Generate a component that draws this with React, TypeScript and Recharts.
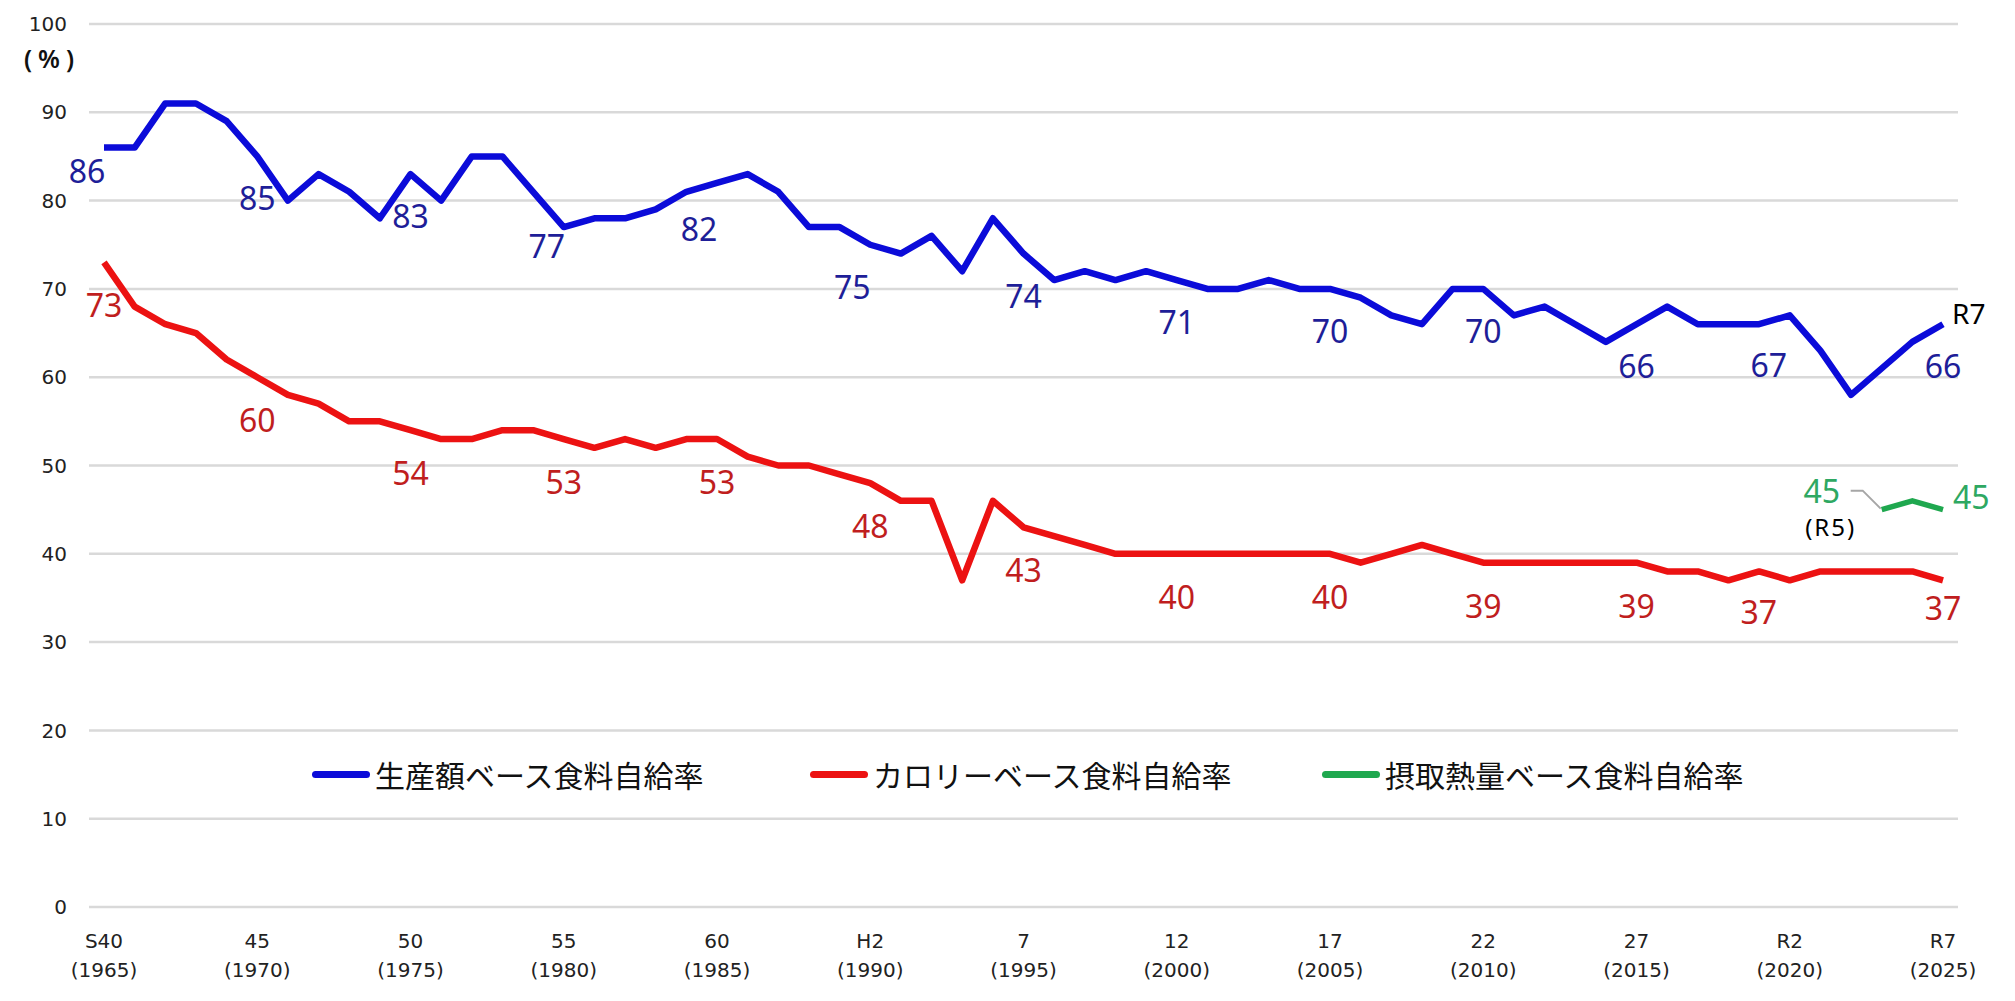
import React from 'react';
import { LineChart, Line, XAxis, YAxis, CartesianGrid, LabelList } from 'recharts';

// fiscal years on the category axis
const years = [
    1965, 1966, 1967, 1968, 1969, 1970, 1971, 1972, 1973, 1974,
    1975, 1976, 1977, 1978, 1979, 1980, 1981, 1982, 1983, 1984,
    1985, 1986, 1987, 1988, 1989, 1990, 1991, 1992, 1993, 1994,
    1995, 1996, 1997, 1998, 1999, 2000, 2001, 2002, 2003, 2004,
    2005, 2006, 2007, 2008, 2009, 2010, 2011, 2012, 2013, 2014,
    2015, 2016, 2017, 2018, 2019, 2020, 2021, 2022, 2023, 2024,
    2025,
];

// 生産額ベース (%)
const production = [
    86, 86, 91, 91, 89, 85, 80, 83, 81, 78,
    83, 80, 85, 85, 81, 77, 78, 78, 79, 81,
    82, 83, 81, 77, 77, 75, 74, 76, 72, 78,
    74, 71, 72, 71, 72, 71, 70, 70, 71, 70,
    70, 69, 67, 66, 70, 70, 67, 68, 66, 64,
    66, 68, 66, 66, 66, 67, 63, 58, 61, 64,
    66,
];

// カロリーベース (%)
const calorie = [
    73, 68, 66, 65, 62, 60, 58, 57, 55, 55,
    54, 53, 53, 54, 54, 53, 52, 53, 52, 53,
    53, 51, 50, 50, 49, 48, 46, 46, 37, 46,
    43, 42, 41, 40, 40, 40, 40, 40, 40, 40,
    40, 39, 40, 41, 40, 39, 39, 39, 39, 39,
    39, 38, 38, 37, 38, 37, 38, 38, 38, 38,
    37,
];

// 摂取熱量ベース (%) - only from R5
const intakeYears = [2023, 2024, 2025];
const intake = [45, 46, 45];

// x axis tick labels (every 5 years)
const tickYears = [1965, 1970, 1975, 1980, 1985, 1990, 1995, 2000, 2005, 2010, 2015, 2020, 2025];
const eraLabels = ['S40', '45', '50', '55', '60', 'H2', '7', '12', '17', '22', '27', 'R2', 'R7'];

const yTicks = [0, 10, 20, 30, 40, 50, 60, 70, 80, 90, 100];

const data = years.map((year, i) => {
    const k = intakeYears.indexOf(year);
    return {
        year,
        production: production[i],
        calorie: calorie[i],
        intake: k >= 0 ? intake[k] : null,
    };
});

const series = [
    { key: 'production', name: '生産額ベース食料自給率', color: '#0b0bd9', labelColor: '#1e1e98' },
    { key: 'calorie', name: 'カロリーベース食料自給率', color: '#ec1212', labelColor: '#c01e1e' },
    { key: 'intake', name: '摂取熱量ベース食料自給率', color: '#1fa84f', labelColor: '#2ea862' },
];

// label nudges [dx, dy] from the point (default sits just under the point)
const productionNudge: Record<number, [number, number]> = {
    1965: [-17, 24], 1980: [-17, 20], 1985: [-18, 47], 1990: [-18, 43], 2020: [-21, 51],
};
const calorieNudge: Record<number, [number, number]> = {
    2020: [-31, 33], 2025: [0, 29],
};

const numFont = '"Noto Sans", sans-serif';
const tickFont = '"DejaVu Sans", sans-serif';
const jpFont = '"Noto Sans CJK JP", sans-serif';

const makeLabel = (color: string, nudge: Record<number, [number, number]>, defDy: number) => (props: any) => {
    const { x, y, value, index } = props;
    const year = years[index];
    if (value == null || !tickYears.includes(year)) return null;
    const [dx, dy] = nudge[year] || [0, defDy];
    return (
        <text x={x + dx} y={y + dy + 11} textAnchor="middle" fill={color}
            style={{ fontFamily: numFont, fontSize: 32 }}>
            {value}
        </text>
    );
};

const productionLabel = (props: any) => {
    const { x, y, index } = props;
    const base = makeLabel(series[0].labelColor, productionNudge, 43)(props);
    if (index !== years.length - 1) return base;
    return (
        <g>
            {base}
            <text x={x + 9} y={y} fill="#000" style={{ fontFamily: numFont, fontSize: 28 }}>R7</text>
        </g>
    );
};

const intakeLabel = (props: any) => {
    const { x, y, value, index } = props;
    if (value == null) return null;
    const year = years[index];
    const color = series[2].labelColor;
    if (year === intakeYears[0]) {
        return (
            <g>
                <polyline points={`${x - 31},${y - 19} ${x - 19},${y - 19} ${x - 1},${y - 1}`}
                    fill="none" stroke="#a6a6a6" strokeWidth={2} />
                <text x={x - 60} y={y - 7} textAnchor="middle" fill={color}
                    style={{ fontFamily: numFont, fontSize: 32 }}>{value}</text>
                <text x={x - 51} y={y + 26} textAnchor="middle" fill="#000"
                    style={{ fontFamily: numFont, fontSize: 24, letterSpacing: 2 }}>(R5)</text>
            </g>
        );
    }
    if (year === intakeYears[intakeYears.length - 1]) {
        return (
            <text x={x + 10} y={y - 1} fill={color} style={{ fontFamily: numFont, fontSize: 32 }}>{value}</text>
        );
    }
    return null;
};

const EraTick = (props: any) => {
    const { x, y, payload } = props;
    const i = tickYears.indexOf(payload.value);
    if (i < 0) return null;
    return (
        <g>
            <text x={x} y={y + 41} textAnchor="middle" fill="#222" style={{ fontFamily: tickFont, fontSize: 20 }}>
                {eraLabels[i]}
            </text>
            <text x={x} y={y + 70} textAnchor="middle" fill="#222" style={{ fontFamily: tickFont, fontSize: 20 }}>
                ({payload.value})
            </text>
        </g>
    );
};

const legendLeft = [312, 810, 1322];

export default function App() {
    return (
        <div style={{ position: 'relative', width: 2015, height: 1001, background: '#fff' }}>
            <style>{'body{margin:0}'}</style>
            <LineChart width={2015} height={1001} data={data} margin={{ top: 24, right: 57, bottom: 0, left: 0 }}>
                <CartesianGrid vertical={false} stroke="#d9d9d9" strokeWidth={2.5} />
                <XAxis
                    dataKey="year"
                    interval={4}
                    axisLine={false}
                    tickLine={false}
                    tickSize={0}
                    tickMargin={0}
                    height={94}
                    padding={{ left: 15, right: 15 }}
                    tick={(p: any) => <EraTick {...p} />}
                />
                <YAxis
                    domain={[0, 100]}
                    ticks={yTicks}
                    interval={0}
                    axisLine={false}
                    tickLine={false}
                    tickSize={0}
                    tickMargin={22}
                    width={89}
                    tick={{ fontFamily: tickFont, fontSize: 20, fill: '#222' }}
                />
                <Line type="linear" dataKey="production" stroke={series[0].color} strokeWidth={6.5}
                    strokeLinejoin="round" dot={false} isAnimationActive={false}>
                    <LabelList dataKey="production" content={productionLabel} />
                </Line>
                <Line type="linear" dataKey="calorie" stroke={series[1].color} strokeWidth={6.5}
                    strokeLinejoin="round" dot={false} isAnimationActive={false}>
                    <LabelList dataKey="calorie" content={makeLabel(series[1].labelColor, calorieNudge, 44)} />
                </Line>
                <Line type="linear" dataKey="intake" stroke={series[2].color} strokeWidth={5.5}
                    strokeLinejoin="round" dot={false} connectNulls={false} isAnimationActive={false}>
                    <LabelList dataKey="intake" content={intakeLabel} />
                </Line>
            </LineChart>

            {/* unit */}
            <div style={{
                position: 'absolute', left: 12, top: 42, width: 80, textAlign: 'center',
                fontFamily: numFont, fontSize: 25, lineHeight: '32px', color: '#111',
                letterSpacing: 6, fontWeight: 600,
            }}>
                (%)
            </div>

            {/* legend */}
            {series.map((s, i) => (
                <div key={s.key} style={{
                    position: 'absolute', left: legendLeft[i], top: 754, height: 40,
                    display: 'flex', alignItems: 'center', whiteSpace: 'nowrap',
                }}>
                    <span style={{ display: 'inline-block', width: 58, height: 7, borderRadius: 4, background: s.color }} />
                    <span style={{ marginLeft: 5, fontFamily: jpFont, fontSize: 30, lineHeight: '40px', color: '#111' }}>
                        {s.name}
                    </span>
                </div>
            ))}
        </div>
    );
}
